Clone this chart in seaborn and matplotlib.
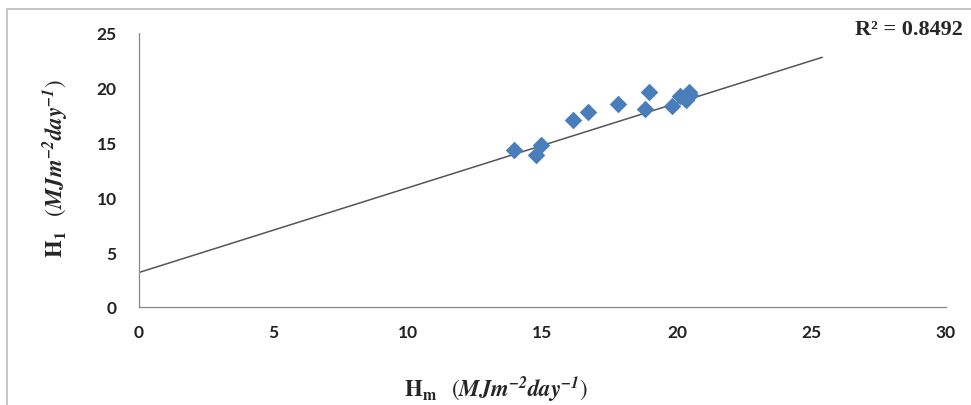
from matplotlib import pyplot as plt
from matplotlib.patches import Rectangle
import seaborn as sns
import numpy as np
import pandas as pd

h_m = [13.95, 14.75, 14.95, 16.15, 16.7, 17.8, 18.8, 18.95, 19.8, 20.1, 20.35, 20.45, 20.5]
h_1 = [14.3, 13.9, 14.75, 17.05, 17.75, 18.55, 18.05, 19.6, 18.35, 19.25, 18.85, 19.6, 19.3]
trend_slope = 0.773
trend_icpt = 3.15
trend_x = [0, 25.4]
r2_text = "R² = 0.8492"

df = pd.DataFrame({"Hm": h_m, "H1": h_1})

sns.set_style("white")
plt.rcParams['mathtext.fontset'] = 'stix'

fig = plt.figure(figsize=(9.71, 4.06), dpi=100)
ax = fig.add_axes([139/971, 1 - 308/406, (946-139)/971, (308-34)/406])

tx = np.array(trend_x)
ax.plot(tx, trend_icpt + trend_slope*tx, color="#555555", lw=1.1, zorder=1)
sns.scatterplot(data=df, x="Hm", y="H1", marker="D", s=80, color="#4a7ebb",
                edgecolor="#4a7ebb", linewidth=0, ax=ax, zorder=2)

ax.set_xlim(0, 30)
ax.set_ylim(0, 25)
ax.set_xticks(range(0, 31, 5))
ax.set_yticks(range(0, 26, 5))
sns.despine(ax=ax)
for s in ["left", "bottom"]:
    ax.spines[s].set_color("#888888")
    ax.spines[s].set_linewidth(0.9)
ax.tick_params(axis="both", direction="out", length=5, color="#888888", width=0.9,
               labelsize=12.5)
for lab in ax.get_xticklabels() + ax.get_yticklabels():
    lab.set_fontweight("bold")
    lab.set_family(["Lato", "DejaVu Sans"])
    lab.set_color("#222222")
ax.tick_params(axis="x", pad=7)
ax.tick_params(axis="y", pad=11)

ax.set_xlabel(r"$\mathbf{H_m}$  $(\mathbfit{MJm^{-2}day^{-1}})$", fontsize=16.5)
ax.set_ylabel(r"$\mathbf{H_1}$  $(\mathbfit{MJm^{-2}day^{-1}})$", fontsize=16.5)
ax.xaxis.set_label_coords((496-139)/807, -(374-308)/274)
ax.yaxis.set_label_coords((70-139)/807, 0.51)

fig.text(855/971, 1 - 30/406, r2_text, fontsize=16, fontweight="bold",
         family="Liberation Serif", va="center", ha="left")

fig.patches.append(Rectangle((7/971, -0.01), 1.0, 1 - 10/406 + 0.01, transform=fig.transFigure,
                             fill=False, edgecolor="#bbbbbb", lw=1.2))

plt.savefig("out.png", dpi=100)
